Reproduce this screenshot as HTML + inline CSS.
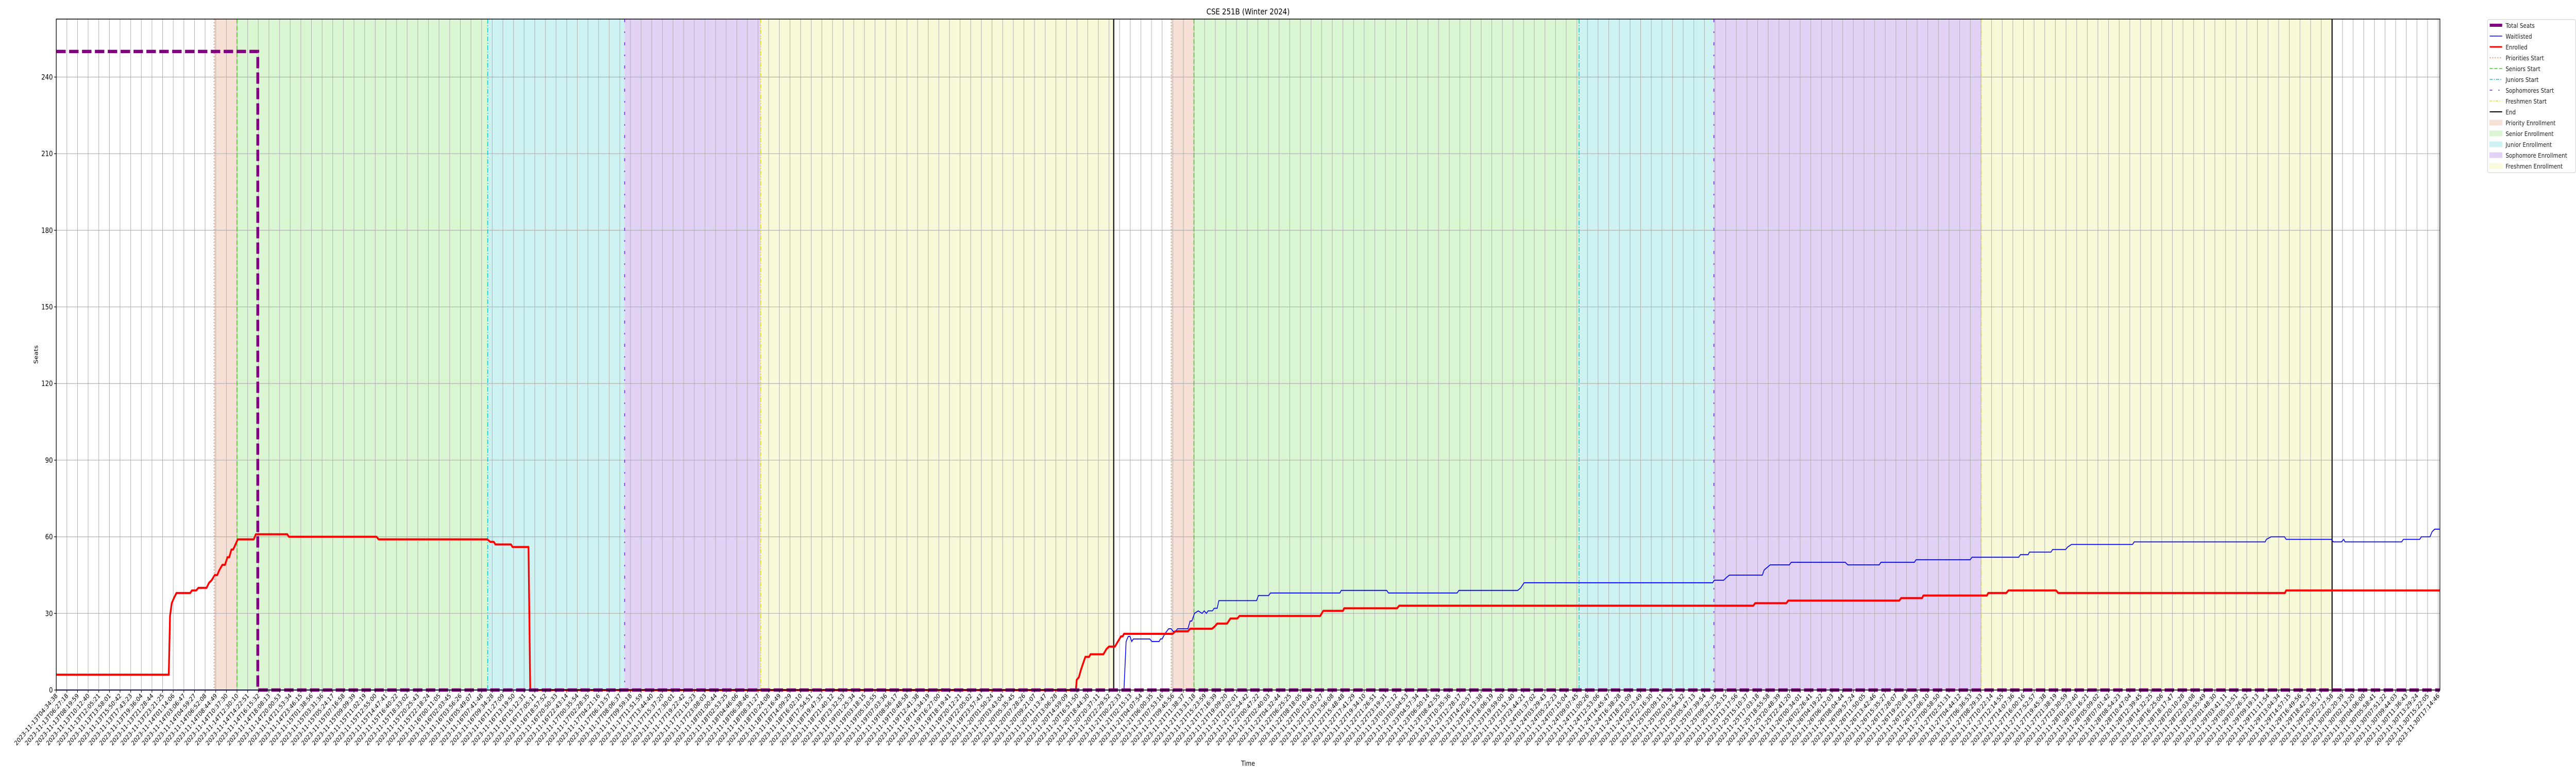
<!DOCTYPE html>
<html><head><meta charset="utf-8"><style>
html,body{margin:0;padding:0;background:#fff;overflow:hidden;width:100%;height:100%;}
svg{display:block;overflow:hidden;width:100vw;height:100vh;font-family:"DejaVu Sans","Liberation Sans",sans-serif;}
</style></head>
<body>
<svg id="chart" viewBox="0 0 6000 1500" preserveAspectRatio="none" xmlns="http://www.w3.org/2000/svg">
<rect x="0" y="0" width="6000" height="1500" fill="#fff"/>
<g id="bands"></g><g id="grid"></g><g id="events"></g><g id="series"></g><g id="axes"></g><g id="legend"></g>
</svg>
<script>
// ---- data ----
const yTicks = [0,30,60,90,120,150,180,210,240];
const tickCount = 225;
const tickStartMs = Date.UTC(2023,10,13,4,34,38);
const tickEndMs = Date.UTC(2023,10,30,17,14,46);
const tickLabels = [];
for (let i=0;i<tickCount;i++){ const d=new Date(tickStartMs+(tickEndMs-tickStartMs)*i/(tickCount-1)); tickLabels.push(d.toISOString().slice(0,19)); }
// x values are hours since first tick
const totalSeatsX = [0,35.59,35.59,420.98];
const totalSeatsY = [250,250,0,0];
const enrolledX = [0,19.87,20.09,20.40,20.78,21.23,23.66,23.96,24.72,25.10,26.54,26.99,27.45,27.98,28.43,28.81,29.34,29.80,30.25,30.56,30.94,31.24,32.07,34.88,35.26,40.79,41.10,56.56,56.94,76.13,76.66,77.27,77.57,80.30,80.60,83.41,83.71,180.08,180.23,180.61,180.99,181.75,182.43,182.66,184.94,185.47,185.92,186.98,188.04,188.35,188.57,197.14,197.67,199.87,200.25,204.12,204.65,205.03,206.77,207.38,208.59,208.97,223.23,223.76,227.24,227.47,236.80,237.18,299.73,300.04,305.57,305.88,325.51,325.82,329.53,329.76,340.98,341.21,344.40,344.78,353.19,353.57,393.61,393.83,420.98];
const enrolledY = [6,6,29,34,36,38,38,39,39,40,40,42,43,45,45,47,49,49,52,52,55,55,59,59,61,61,60,60,59,59,58,58,57,57,56,56,0,0,4,5,8,13,13,14,14,16,17,17,21,21,22,22,23,23,24,24,25,26,26,28,28,29,29,31,31,32,32,33,33,34,34,35,35,36,36,37,37,38,38,39,39,38,38,39,39];
const waitX = [0,188.57,188.95,189.33,189.64,189.94,190.24,193.13,193.50,194.79,195.02,195.32,195.78,196.46,196.92,197.22,197.67,198.05,199.87,200.25,200.55,201.03,201.69,202.37,202.75,203.13,203.43,204.19,204.50,205.03,205.33,212.00,212.31,214.13,214.43,226.71,226.94,234.98,235.28,247.41,247.72,258.11,258.64,259.24,292.53,292.83,294.50,294.95,295.48,301.32,301.63,302.69,306.10,306.40,315.96,316.41,321.95,322.25,328.16,328.47,338.02,338.33,346.59,346.90,348.26,348.49,352.28,352.58,354.86,355.24,355.92,366.69,366.99,390.12,390.34,391.18,393.53,393.83,401.79,402.17,403.61,403.99,404.22,414.23,414.53,417.41,417.71,419.23,419.61,420.07,420.98];
const waitY = [0,0,19,21,21,19,20,20,19,19,20,20,22,24,24,23,23,24,24,27,27,30,31,30,31,30,31,31,32,32,35,35,37,37,38,38,39,39,38,38,39,39,40,42,42,43,43,44,45,45,47,49,49,50,50,49,49,50,50,51,51,52,52,53,53,54,54,55,55,56,57,57,58,58,59,60,60,59,59,58,58,59,58,58,59,59,60,60,62,63,63];
const prioStarts = [27.90,196.92];
const seniorStarts = [31.92,200.93];
const juniorStarts = [76.20,268.95];
const sophStarts = [100.39,292.76];
const freshStarts = [124.43,339.99];
const endTimes = [186.76,401.94];

// ---- axes ----
const L=131,R=5683,T=37,B=1339, XMAX=420.98, YMAX=262.7;
const xs = h => L + h/XMAX*(R-L);
const ys = v => B - v/YMAX*(B-T);
const tickX = i => 131 + i*(5679-131)/(tickCount-1);
const NS="http://www.w3.org/2000/svg";
function mk(parent, tag, attrs){ const e=document.createElementNS(NS,tag); for(const k in attrs) e.setAttribute(k,attrs[k]); document.getElementById(parent).appendChild(e); return e; }

// bands
const bandDefs=[[prioStarts,seniorStarts,'#f6e0d6','priority-band'],[seniorStarts,juniorStarts,'#daf5d2','senior-band'],[juniorStarts,sophStarts,'#cef1f2','junior-band'],[sophStarts,freshStarts,'#e1d2f5','sophomore-band'],[freshStarts,endTimes,'#f8f9d9','freshmen-band']];
bandDefs.forEach(b=>{ for(let k=0;k<2;k++){
  const r=mk('bands','rect',{x:xs(b[0][k]),y:T,width:xs(b[1][k])-xs(b[0][k]),height:B-T,fill:b[2]});
  
  
}});
// grid
for(let i=0;i<tickCount;i++){
  const g=mk('grid','line',{x1:tickX(i),x2:tickX(i),y1:T,y2:B,stroke:'#b0b0b0','stroke-width':1.2});
  
  
}
yTicks.forEach(v=>{
  const g=mk('grid','line',{x1:L,x2:R,y1:ys(v),y2:ys(v),stroke:'#b0b0b0','stroke-width':1.2});
  
  
});
// event lines
const evDefs=[[prioStarts,'#f26522','2 4','priorities-start-line',1.5],[seniorStarts,'#33cc11','9 4','seniors-start-line',1.8],[juniorStarts,'#11c4cc','9 3 2 3','juniors-start-line',1.8],[sophStarts,'#6a22dd','6 18 3 18','sophomores-start-line',1.8],[freshStarts,'#dddd22','8 3 2 3 2 3','freshmen-start-line',1.8],[endTimes,'#000','','end-line',2.5]];
evDefs.forEach(e=>{ for(let k=0;k<2;k++){
  const a={x1:xs(e[0][k]),x2:xs(e[0][k]),y1:T,y2:B,stroke:e[1],'stroke-width':e[4]};
  if(e[2]) a['stroke-dasharray']=e[2];
  const l=mk('events','line',a);
  
  
}});
// series
function pts(X,Y){ return X.map((x,i)=>xs(x).toFixed(1)+','+ys(Y[i]).toFixed(1)).join(' '); }
const wl=mk('series','polyline',{points:pts(waitX,waitY),fill:'none',stroke:'#0000ff','stroke-width':1.8});


const el=mk('series','polyline',{points:pts(enrolledX,enrolledY),fill:'none',stroke:'#ff0000','stroke-width':4,'stroke-linejoin':'round'});


const tl=mk('series','polyline',{points:pts(totalSeatsX,totalSeatsY),fill:'none',stroke:'#800080','stroke-width':6.5,'stroke-dasharray':'22 8'});


// axes frame
const fr=mk('axes','rect',{x:L,y:T,width:R-L,height:B-T,fill:'none',stroke:'#000','stroke-width':1.5});


for(let i=0;i<tickCount;i++){
  const x=tickX(i);
  mk('axes','line',{x1:x,x2:x,y1:B,y2:B+5,stroke:'#000','stroke-width':1.2});
  const t=mk('axes','text',{x:0,y:0,'font-size':12.5,'text-anchor':'end',fill:'#000',transform:`translate(${x+4},${B+12}) rotate(-45)`});
  t.textContent=tickLabels[i];
  
  
}
yTicks.forEach(v=>{
  mk('axes','line',{x1:L-5,x2:L,y1:ys(v),y2:ys(v),stroke:'#000','stroke-width':1.2});
  const t=mk('axes','text',{x:L-8,y:ys(v)+5,'font-size':14,'text-anchor':'end',fill:'#000'});
  t.textContent=v;
  
  
});
const title=mk('axes','text',{x:(L+R)/2,y:28,'font-size':16,'text-anchor':'middle',fill:'#000'});
title.textContent='CSE 251B (Winter 2024)';


const xt=mk('axes','text',{x:(L+R)/2,y:1486,'font-size':13,'text-anchor':'middle',fill:'#000'});
xt.textContent='Time';


const yt=mk('axes','text',{x:0,y:0,'font-size':13,'text-anchor':'middle',fill:'#000',transform:`translate(88,${(T+B)/2}) rotate(-90)`});
yt.textContent='Seats';


// legend
const legendLabels=['Total Seats','Waitlisted','Enrolled','Priorities Start','Seniors Start','Juniors Start','Sophomores Start','Freshmen Start','End','Priority Enrollment','Senior Enrollment','Junior Enrollment','Sophomore Enrollment','Freshmen Enrollment'];
const lb=mk('legend','rect',{x:5794,y:38,width:205,height:297,rx:3,fill:'#fff',stroke:'#d0d0d0','stroke-width':1.2});


const handles=[['#800080',6,''],['#0000ff',1.5,''],['#ff0000',3,''],['#f26522',1.5,'2 4'],['#33cc11',1.5,'7 4'],['#11c4cc',1.5,'7 3 2 3'],['#6a22dd',1.5,'6 14 3 14'],['#dddd22',1.5,'6 3 2 3'],['#000',2,'']];
const swatch=['#f6e0d6','#daf5d2','#cef1f2','#e1d2f5','#f8f9d9'];
legendLabels.forEach((lab,i)=>{
  const y=49+i*21;
  if(i<9){ const h=handles[i]; const a={x1:5799,x2:5828,y1:y,y2:y,stroke:h[0],'stroke-width':h[1]}; if(h[2])a['stroke-dasharray']=h[2]; mk('legend','line',a); }
  else { mk('legend','rect',{x:5799,y:y-5,width:29,height:10,fill:swatch[i-9],stroke:swatch[i-9]}); }
  const t=mk('legend','text',{x:5836,y:y+5,'font-size':12.5,fill:'#222'});
  t.textContent=lab;
  
  
});
</script>
</body></html>
